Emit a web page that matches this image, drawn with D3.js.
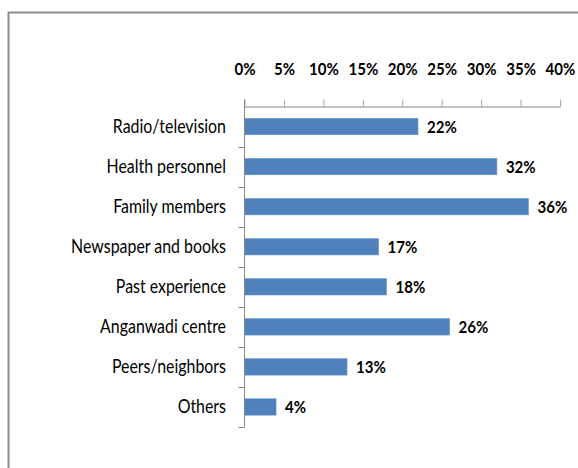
<!DOCTYPE html>
<html>
<head>
<meta charset="utf-8">
<script src="https://cdn.jsdelivr.net/npm/d3@7"></script>
<style>
  html, body { margin: 0; padding: 0; background: #fff; }
  svg { display: block; }
  text { font-family: Lato, "Open Sans", sans-serif; fill: #000; }
</style>
</head>
<body>
<svg id="chart" width="578" height="468"></svg>
<script>
// Sources of information (share of respondents)
const categories = [
  "Radio/television",
  "Health personnel",
  "Family members",
  "Newspaper and books",
  "Past experience",
  "Anganwadi centre",
  "Peers/neighbors",
  "Others"
];
const shares = [22, 32, 36, 17, 18, 26, 13, 4];
const tickValues = [0, 5, 10, 15, 20, 25, 30, 35, 40];

// narrow the typeface horizontally for a condensed look
const SQUEEZE = 0.86;

const svg = d3.select("#chart");

// outer frame (left and top edges visible)
svg.append("path")
  .attr("d", "M8.5,468 V12.5 H578")
  .attr("fill", "none")
  .attr("stroke", "#8c8c8c")
  .attr("stroke-width", 2);

const plot = { left: 244.5, right: 560, top: 106.5, bottom: 427 };

const x = d3.scaleLinear().domain([0, 40]).range([plot.left, plot.right]);
const y = d3.scaleBand().domain(categories).range([plot.top, plot.bottom]).paddingInner(0.59).paddingOuter(0.295);
const yBand = d3.scaleBand().domain(categories).range([plot.top, plot.bottom]);

// bars
svg.append("g").selectAll("rect")
  .data(categories)
  .join("rect")
  .attr("x", x(0))
  .attr("y", d => y(d))
  .attr("width", (d, i) => x(shares[i]) - x(0))
  .attr("height", y.bandwidth())
  .attr("fill", "#4f81bd")
  .attr("stroke", "#6b96cc")
  .attr("stroke-width", 0.6);

// top value axis
const xAxis = d3.axisTop(x)
  .tickValues(tickValues)
  .tickFormat(d => d + "%")
  .tickSizeInner(7)
  .tickSizeOuter(0)
  .tickPadding(25);
const gx = svg.append("g").attr("transform", `translate(0,${plot.top})`).call(xAxis);
gx.select(".domain").attr("stroke", "#868686");
gx.selectAll(".tick line").attr("stroke", "#a6a6a6");
gx.selectAll(".tick text")
  .attr("font-size", 17.5)
  .attr("font-weight", "bold")
  .attr("fill", "#000")
  .attr("font-family", "Lato, 'Open Sans', sans-serif")
  .attr("transform", `scale(${SQUEEZE},1)`);

// left category axis: band boundary ticks
const gy = svg.append("g").attr("transform", `translate(${plot.left},0)`);
gy.append("line")
  .attr("x1", 0).attr("x2", 0)
  .attr("y1", plot.top - 7).attr("y2", plot.bottom)
  .attr("stroke", "#868686");
const boundaries = categories.map(c => yBand(c)).concat([plot.bottom]).slice(1);
gy.selectAll("line.tk")
  .data(boundaries)
  .join("line")
  .attr("class", "tk")
  .attr("x1", -6).attr("x2", 0)
  .attr("y1", d => Math.round(d) + 0.5).attr("y2", d => Math.round(d) + 0.5)
  .attr("stroke", "#868686");

// category labels
svg.append("g").selectAll("text")
  .data(categories)
  .join("text")
  .attr("transform", d => `translate(226,${yBand(d) + yBand.bandwidth() / 2}) scale(${SQUEEZE},1)`)
  .attr("dy", "0.35em")
  .attr("text-anchor", "end")
  .attr("font-size", 18.5)
  .text(d => d);

// value labels
svg.append("g").selectAll("text")
  .data(categories)
  .join("text")
  .attr("transform", (d, i) => `translate(${x(shares[i]) + 9},${yBand(d) + yBand.bandwidth() / 2}) scale(${SQUEEZE},1)`)
  .attr("dy", "0.35em")
  .attr("font-size", 17.5)
  .attr("font-weight", "bold")
  .text((d, i) => shares[i] + "%");
</script>
</body>
</html>
